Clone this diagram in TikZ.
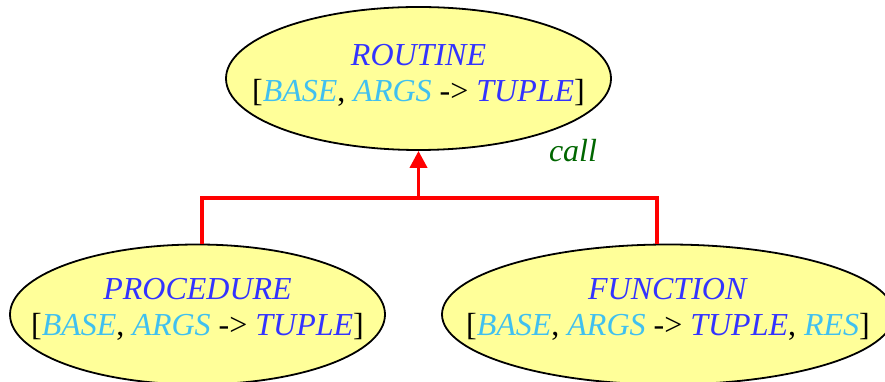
\documentclass[tikz,border=0pt]{standalone}
\usepackage{fontspec}
\setmainfont{Liberation Serif}
\usetikzlibrary{shapes.geometric,arrows.meta}

\definecolor{clsfill}{HTML}{FFFF99}
\definecolor{dblue}{HTML}{3333FF}
\definecolor{lblue}{HTML}{40C0F0}
\definecolor{dgreen}{HTML}{006600}
\newcommand{\cname}[1]{\textcolor{dblue}{\textit{#1}}}
\newcommand{\gname}[1]{\textcolor{lblue}{\textit{#1}}}

\begin{document}
\begin{tikzpicture}[x=1pt,y=1pt,
  classbox/.style={ellipse,draw=black,line width=1.8pt,fill=clsfill,inner sep=0pt},
  classtext/.style={align=center,font=\fontsize{32}{36}\selectfont},
  inherit/.style={red,line width=3.8pt}]
\useasboundingbox (0,0) rectangle (885,382);

% classes
\node[classbox,minimum width=385pt,minimum height=143pt] (routine) at (418.5,303.5) {};
\node[classbox,minimum width=375pt,minimum height=140pt] (proc) at (197.5,67.5) {};
\node[classbox,minimum width=452pt,minimum height=140pt] (func) at (668,67.5) {};

\node[classtext] (routinetxt) at ([yshift=3pt]routine.center)
  {\cname{ROUTINE}\\{}[\gname{BASE}, \gname{ARGS} -> \cname{TUPLE}]};
\node[classtext] (proctxt) at ([yshift=5pt]proc.center)
  {\cname{PROCEDURE}\\{}[\gname{BASE}, \gname{ARGS} -> \cname{TUPLE}]};
\node[classtext] (functxt) at ([yshift=5pt]func.center)
  {\cname{FUNCTION}\\{}[\gname{BASE}, \gname{ARGS} -> \cname{TUPLE}, \gname{RES}]};

% inheritance
\coordinate (join) at (418.5,184);
\draw[inherit] ([xshift=4.5pt]proc.north) |- (join) -| ([xshift=-11pt]func.north);
\draw[inherit,-{Triangle[width=17pt,length=17pt]}] (join) -- (routine.south);

\node[anchor=base,text=dgreen,font=\fontsize{32}{36}\selectfont\itshape] (call) at (573,220) {call};

\end{tikzpicture}
\end{document}
